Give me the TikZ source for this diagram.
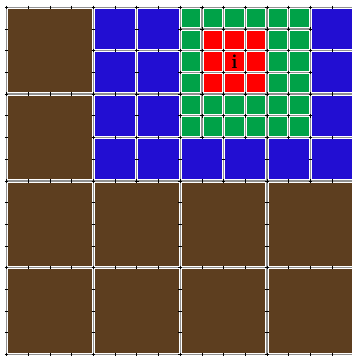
\documentclass[tikz,border=0pt]{standalone}
\definecolor{cbrown}{RGB}{93,62,31}
\definecolor{cblue}{RGB}{34,14,210}
\definecolor{cgreen}{RGB}{0,162,72}
\definecolor{cred}{RGB}{255,0,0}
\definecolor{cgap}{RGB}{145,145,145}
\newcommand\qcell[4]{%
  \fill[#4] (#1+0.074,#2+0.074) rectangle (#1+#3-0.074,#2+#3-0.074);
  \draw[gapline] (#1,#2) rectangle (#1+#3,#2+#3);
  \foreach \i in {0,...,#3}{
    \draw[tick] (#1+\i,#2-0.08) -- (#1+\i,#2+0.08);
    \draw[tick] (#1+\i,#2+#3-0.08) -- (#1+\i,#2+#3+0.08);
    \draw[tick] (#1-0.08,#2+\i) -- (#1+0.08,#2+\i);
    \draw[tick] (#1+#3-0.08,#2+\i) -- (#1+#3+0.08,#2+\i);
  }%
}
\begin{document}
\begin{tikzpicture}[x=21.7pt,y=-21.7pt,
  gapline/.style={cgap,line width=1.3pt},
  tick/.style={black,line width=0.7pt}]
\useasboundingbox[fill=white] (-0.304,-0.336) rectangle (15.871,16.069);
\foreach \c/\r in {0/0,0/4,0/8,4/8,8/8,12/8,0/12,4/12,8/12,12/12}{\qcell{\c}{\r}{4}{cbrown}}
\foreach \c/\r in {4/0,6/0,4/2,6/2,4/4,6/4,4/6,6/6,8/6,10/6,12/6,14/6,14/0,14/2,14/4}{\qcell{\c}{\r}{2}{cblue}}
\foreach \c in {8,...,13}{
  \foreach \r in {0,...,5}{
    \def\col{cgreen}
    \ifnum\c>8 \ifnum\c<12 \ifnum\r>0 \ifnum\r<4 \def\col{cred}\fi\fi\fi\fi
    \qcell{\c}{\r}{1}{\col}
  }
}
\node[font=\bfseries\fontsize{20}{22}\selectfont,inner sep=0pt] (i) at (10.5,2.5) {i};
\end{tikzpicture}
\end{document}
